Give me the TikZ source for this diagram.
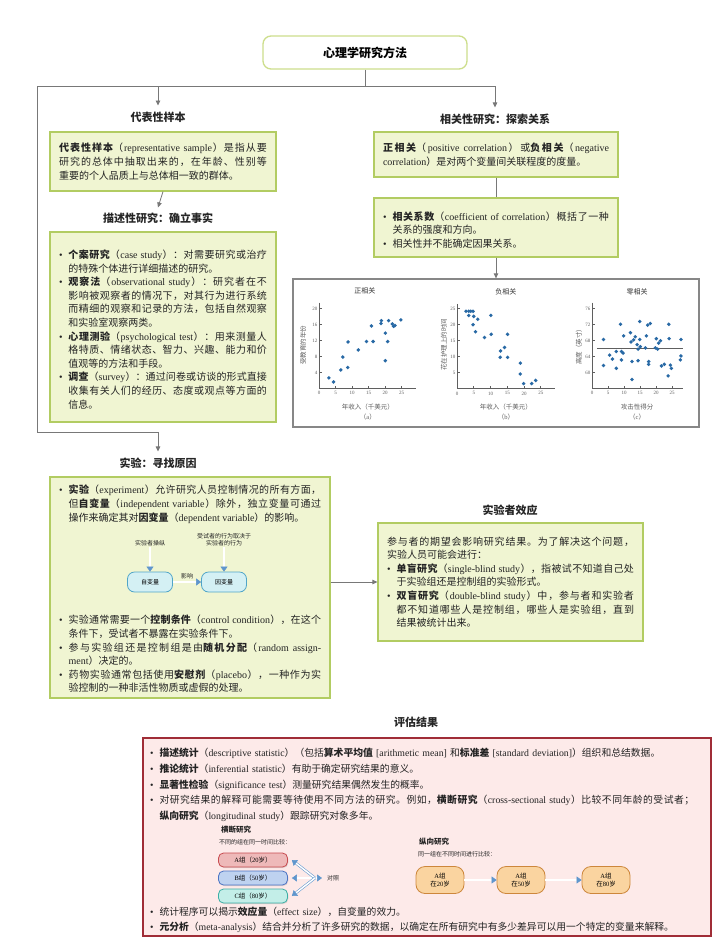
\documentclass[tikz,border=0pt]{standalone}
\usepackage{fontspec}
\setmainfont{Liberation Serif}
\newfontfamily\cjkfamily{Noto Sans CJK SC}
\usetikzlibrary{arrows.meta,shadows,positioning}

\makeatletter
\XeTeXinterchartokenstate=1
\newXeTeXintercharclass\cjkclass
\newcommand\setcharclass[3]{\count@=#1\relax
  \loop\XeTeXcharclass\count@=#3\relax
  \ifnum\count@<#2\advance\count@\@ne\repeat}
\makeatother
\setcharclass{"21}{"7E}{0}
\setcharclass{"2022}{"2022}{0}
\setcharclass{"3000}{"303F}{\cjkclass}
\setcharclass{"4E00}{"9FFF}{\cjkclass}
\setcharclass{"FF00}{"FFEF}{\cjkclass}
\newcommand\cjkglue{\nobreak\hskip0pt plus 1.2pt minus 0.3pt\relax}
\XeTeXinterchartoks 0 \cjkclass = {\cjkglue\cjkfamily}
\XeTeXinterchartoks 4095 \cjkclass = {\cjkfamily}
\XeTeXinterchartoks \cjkclass 0 = {\rmfamily\cjkglue}
\XeTeXinterchartoks 4095 0 = {\rmfamily}
\XeTeXinterchartoks \cjkclass \cjkclass = {\cjkglue}

\newcommand\itm{\par\noindent\hangindent=0.95em\hangafter=1\makebox[0.95em][l]{\textbullet}}

\definecolor{linegray}{RGB}{120,120,120}
\definecolor{boxedge}{RGB}{178,204,98}
\definecolor{boxfill}{RGB}{240,245,210}
\definecolor{titleedge}{RGB}{205,222,140}
\definecolor{evaledge}{RGB}{160,45,55}
\definecolor{evalfill}{RGB}{253,234,233}
\definecolor{inktext}{RGB}{35,35,35}
\definecolor{dotblue}{RGB}{40,105,165}
\definecolor{plotgray}{RGB}{95,95,95}
\definecolor{framegray}{RGB}{135,135,135}
\definecolor{arrowblue}{RGB}{95,150,205}
\definecolor{cyanfill}{RGB}{212,240,244}
\definecolor{cyanedge}{RGB}{80,165,200}
\definecolor{pinkfill}{RGB}{238,185,185}
\definecolor{pinkedge}{RGB}{200,75,80}
\definecolor{bluefill}{RGB}{190,210,240}
\definecolor{blueedge}{RGB}{75,115,195}
\definecolor{tealfill}{RGB}{195,238,232}
\definecolor{tealedge}{RGB}{60,175,165}
\definecolor{orangefill}{RGB}{250,212,160}
\definecolor{orangeedge}{RGB}{205,135,60}

\begin{document}
\begin{tikzpicture}[x=1pt,y=-1pt,
  conn/.style={draw=linegray,line width=0.8pt},
  arr/.style={conn,-{Triangle[length=5pt,width=4.5pt]}},
  head/.style={font=\fontsize{11}{13}\selectfont\bfseries,text=black!85,inner sep=2pt},
  titlebox/.style={draw=titleedge,fill=white,line width=1.3pt,rounded corners=8pt,
    minimum width=204pt,minimum height=33pt,font=\fontsize{12}{14}\selectfont\bfseries},
  greenbox/.style={draw=boxedge,fill=boxfill,line width=1.2pt,
    drop shadow={opacity=0.18,shadow xshift=1.2pt,shadow yshift=-1.2pt},
    inner xsep=9pt,inner ysep=4pt,align=justify,text=inktext,
    font=\fontsize{10}{13.6}\selectfont},
  parbox/.style={inner sep=0pt,align=justify,text=inktext,font=\fontsize{10}{13.6}\selectfont},
  evalbox/.style={draw=evaledge,fill=evalfill,line width=1.2pt,
    drop shadow={opacity=0.2,shadow xshift=1.2pt,shadow yshift=-1.2pt}},
  evaltext/.style={inner sep=0pt,align=left,text=inktext,font=\fontsize{9.8}{15.6}\selectfont},
  frame/.style={draw=framegray,fill=white,line width=1.3pt},
  axis/.style={draw=plotgray,line width=0.6pt},
  dot/.style={fill=dotblue},
  ticklab/.style={font=\fontsize{5}{6}\selectfont,text=plotgray,inner sep=1.5pt},
  plottitle/.style={font=\fontsize{7}{8}\selectfont,text=black!80},
  axlab/.style={font=\fontsize{6.5}{7.5}\selectfont,text=plotgray,inner sep=1pt},
  small/.style={font=\fontsize{6}{7}\selectfont,text=inktext,inner sep=1pt},
  smallbold/.style={font=\fontsize{7.5}{9}\selectfont\bfseries,text=inktext,inner sep=1pt},
  hollow/.style={draw=arrowblue,double=white,double distance=1.5pt,line width=0.55pt,
    -{Triangle[length=5pt,width=7pt]}},
  hollowboth/.style={hollow,{Triangle[length=5pt,width=7pt]}-{Triangle[length=5pt,width=7pt]}},
  varpill/.style={draw=cyanedge,fill=cyanfill,rounded corners=7pt,line width=0.8pt,
    minimum width=45pt,minimum height=20pt,font=\fontsize{6}{7}\selectfont},
  pill/.style={rounded corners=5pt,line width=0.8pt,minimum width=69pt,minimum height=14pt,
    inner sep=1pt,font=\fontsize{6.5}{7}\selectfont,
    drop shadow={opacity=0.25,shadow xshift=0.8pt,shadow yshift=-1pt}},
  agepill/.style={draw=orangeedge,fill=orangefill,rounded corners=9pt,line width=0.8pt,
    minimum width=48pt,minimum height=27pt,align=center,font=\fontsize{6.5}{8.5}\selectfont}]

\fill[white] (0,0) rectangle (728,951);
\useasboundingbox (0,0) rectangle (728,951);

% title and headings
\node[titlebox] (title) at (365,52.5) {心理学研究方法};
\node[head] (hrep) at (158,117) {代表性样本};
\node[head] (hdesc) at (158,218) {描述性研究：确立事实};
\node[head] (hcorr) at (495,119) {相关性研究：探索关系};
\node[head] (hexp) at (158,463) {实验：寻找原因};
\node[head] (heff) at (510,510) {实验者效应};
\node[head] (heval) at (416,722) {评估结果};

% left column
\node[greenbox,text width=208pt,minimum height=59pt] (brep) at (163,161.5)
  {\textbf{代表性样本}（representative sample）是指从要\linebreak 研究的总体中抽取出来的，在年龄、性别等\linebreak 重要的个人品质上与总体相一致的群体。};
\node[greenbox,text width=208pt,minimum height=190pt] (bdesc) at (163,327)
  {\itm\textbf{个案研究}（case study）：对需要研究或治疗\linebreak 的特殊个体进行详细描述的研究。
   \itm\textbf{观察法}（observational study）：研究者在不\linebreak 影响被观察者的情况下，对其行为进行系统\linebreak 而精细的观察和记录的方法，包括自然观察\linebreak 和实验室观察两类。
   \itm\textbf{心理测验}（psychological test）：用来测量人\linebreak 格特质、情绪状态、智力、兴趣、能力和价\linebreak 值观等的方法和手段。
   \itm\textbf{调查}（survey）：通过问卷或访谈的形式直接\linebreak 收集有关人们的经历、态度或观点等方面的\linebreak 信息。\par};

% right column
\node[greenbox,text width=226pt,minimum height=45pt] (bcorr) at (496,154.5)
  {\textbf{正相关}（positive correlation）或\textbf{负相关}（negative\linebreak correlation）是对两个变量间关联程度的度量。};
\node[greenbox,text width=226pt,minimum height=59pt] (bcoef) at (496,227.5)
  {\itm\textbf{相关系数}（coefficient of correlation）概括了一种\linebreak 关系的强度和方向。
   \itm 相关性并不能确定因果关系。\par};
\node[frame,minimum width=406pt,minimum height=148pt] (plots) at (496,353) {};

% connectors at the top
\coordinate (jl) at (37,86);
\coordinate (jr) at (495,86);
\coordinate (jm) at (158,86);
\coordinate (jb) at (37,432);
\draw[conn] (title.south) -- (title.south |- jl);
\draw[arr] (jl) -- (jr) -- ([yshift=4pt]hcorr.north);
\draw[arr] (jm) -- ([yshift=4pt]hrep.north);
\draw[arr] (brep.south) -- ([yshift=3pt]hdesc.north);
\draw[arr] (jl) -- (jb) -- (jb -| hexp) -- ([yshift=4pt]hexp.north);
\draw[conn] (bcorr.south) -- (bcoef.north);
\draw[arr] (bcoef.south) -- (plots.north);

% plot (a)
\begin{scope}[shift={(319,388.7)},x=3.3pt,y=4pt]
  \draw[axis] (0,21.5) -- (0,0) -- (29.5,0);
  \node[ticklab,below] (xa0) at (0,-0.3) {0};
  \foreach \t in {5,10,...,25}{
    \draw[axis] (\t,0) -- (\t,0.6);
    \node[ticklab,below] (xa\t) at (\t,-0.3) {\t};}
  \foreach \t in {4,8,...,20}{
    \draw[axis] (0,\t) -- (0.8,\t);
    \node[ticklab,left] (ya\t) at (0,\t) {\t};}
  \foreach \p in {(3,2.7),(4.4,1.7),(6.6,4.7),(7.2,7.9),(8.7,5.3),(8.8,11.7),(11.9,9.7),
    (14.4,11.8),(15.9,15.7),(16.4,11.8),(18.8,16.3),(18.9,17),(20.1,13.9),(20.1,7),
    (20.8,11.8),(21.1,17),(22.2,16.2),(22.6,15.6),(23,15.8),(24.8,17.2)}
    \fill[dot] \p circle (1.9pt);
  \node[plottitle] (pta) at (13.9,24.4) {正相关};
  \node[axlab] (pxa) at (14.8,-4.6) {年收入（千美元）};
  \node[axlab] (pca) at (14.8,-7.1) {（a）};
  \node[axlab,rotate=90] (pya) at (-4.8,10.9) {受教育的年份};
\end{scope}

% plot (b)
\begin{scope}[shift={(457,388.7)},x=3.35pt,y=3.2pt]
  \draw[axis] (0,26.5) -- (0,0) -- (29.3,0);
  \node[ticklab,below] (xb0) at (0,-0.4) {0};
  \foreach \t in {5,10,...,25}{
    \draw[axis] (\t,0) -- (\t,0.7);
    \node[ticklab,below] (xb\t) at (\t,-0.4) {\t};}
  \foreach \t in {5,10,...,25}{
    \draw[axis] (0,\t) -- (0.8,\t);
    \node[ticklab,left] (yb\t) at (0,\t) {\t};}
  \foreach \p in {(2.7,24.2),(3.5,24.2),(4.1,24.2),(4.8,24.2),(3.5,22.9),(5,22.6),
    (6.2,21.7),(4.8,20),(5.5,17.8),(10.1,22.9),(10.2,17),(8.2,16),(15.1,17),(13,11.8),
    (14.2,12.9),(12.9,9.8),(15.1,9.8),(18.9,8),(18.9,4.6),(19.9,1.6),(22.3,1.6),(23.5,2.6)}
    \fill[dot] \p circle (1.9pt);
  \node[plottitle] (ptb) at (14.6,30.2) {负相关};
  \node[axlab] (pxb) at (14.6,-5.7) {年收入（千美元）};
  \node[axlab] (pcb) at (14.6,-8.8) {（b）};
  \node[axlab,rotate=90] (pyb) at (-3.9,13.7) {花在护理上的时间};
\end{scope}

% plot (c)
\begin{scope}[shift={(592,612.7)},x=3.2pt,y=4pt]
  \draw[axis] (0,77.5) -- (0,56) -- (28.5,56);
  \node[ticklab,below] (xc0) at (0,55.7) {0};
  \foreach \t in {5,10,...,25}{
    \draw[axis] (\t,56) -- (\t,56.6);
    \node[ticklab,below] (xc\t) at (\t,55.7) {\t};}
  \foreach \t in {60,64,...,76}{
    \draw[axis] (0,\t) -- (0.8,\t);
    \node[ticklab,left] (yc\t) at (0,\t) {\t};}
  \draw[draw=plotgray,line width=1.3pt] (1.5,66) -- (28.5,66);
  \foreach \p in {(3.6,68.3),(3.6,61.8),(5.5,64.4),(6.4,63.4),(7.6,65.3),(7.6,61.1),
    (8.9,72.1),(9.2,65.3),(9.2,63.2),(9.7,64.9),(9.9,69.2),(12,70),(12.2,67.7),(12.5,62.8),
    (12.5,58.3),(13,68.2),(13.5,69),(14.1,67),(14.4,65.9),(14.4,63),(14.9,72.8),(14.9,68.3),
    (15.1,66.5),(16.7,66.2),(17,69.2),(17.4,71.9),(17.7,62.1),(17.7,62.8),(18.2,72.3),
    (19.8,66.2),(20.1,68.5),(20.5,65.9),(20.8,67.4),(21.4,68),(21.7,61.7),(22.6,62.1),
    (23.8,59.2),(24,72.1),(24.1,68.5),(24.5,61.9),(24.8,61.1),(27.8,64.2),(27.6,63.2),(27.8,68.3)}
    \fill[dot] \p circle (1.9pt);
  \node[plottitle] (ptc) at (14.1,80.2) {零相关};
  \node[axlab] (pxc) at (14.1,51.4) {攻击性得分};
  \node[axlab] (pcc) at (14.1,48.9) {（c）};
  \node[axlab,rotate=90] (pyc) at (-4.1,66.9) {高度（英寸）};
\end{scope}

% experiment
\node[greenbox,minimum width=280pt,minimum height=221pt] (bexp) at (190,587.5) {};
\node[parbox,text width=262pt,anchor=north west] (texp1) at (59,480)
  {\itm\textbf{实验}（experiment）允许研究人员控制情况的所有方面，\linebreak 但\textbf{自变量}（independent variable）除外，独立变量可通过\linebreak 操作来确定其对\textbf{因变量}（dependent variable）的影响。\par};
\node[small] (lman) at (150,543) {实验者操纵};
\node[small,align=center] (ldep) at (224,539.5) {受试者的行为取决于\\实验者的行为};
\node[varpill] (iv) at (150,582) {自变量};
\node[varpill] (dv) at (224,582) {因变量};
\draw[hollow] (lman.south) -- (iv.north);
\draw[hollow] (ldep.south) -- (dv.north);
\draw[hollow] (iv.east) -- (dv.west) node[small,midway,above=2pt] (leff) {影响};
\node[parbox,text width=262pt,anchor=north west] (texp2) at (59,610)
  {\itm 实验通常需要一个\textbf{控制条件}（control condition），在这个\linebreak 条件下，受试者不暴露在实验条件下。
   \itm 参与实验组还是控制组是由\textbf{随机分配}（random assign-\linebreak ment）决定的。
   \itm 药物实验通常包括使用\textbf{安慰剂}（placebo），一种作为实\linebreak 验控制的一种非活性物质或虚假的处理。\par};

% experimenter effect
\node[greenbox,text width=247pt,minimum height=118pt] (beff) at (510.5,582)
  {\noindent 参与者的期望会影响研究结果。为了解决这个问题，\linebreak 实验人员可能会进行：
   \itm\textbf{单盲研究}（single-blind study），指被试不知道自己处\linebreak 于实验组还是控制组的实验形式。
   \itm\textbf{双盲研究}（double-blind study）中，参与者和实验者\linebreak 都不知道哪些人是控制组，哪些人是实验组，直到\linebreak 结果被统计出来。\par};
\draw[arr] (bexp.east |- beff.west) -- (beff.west);

% evaluation
\node[evalbox,minimum width=568pt,minimum height=198pt] (beval) at (427,837) {};
\node[evaltext,text width=552pt,anchor=north west] (tev1) at (150,741)
  {\itm\textbf{描述统计}（descriptive statistic）（包括\textbf{算术平均值} [arithmetic mean] 和\textbf{标准差} [standard deviation]）组织和总结数据。
   \itm\textbf{推论统计}（inferential statistic）有助于确定研究结果的意义。
   \itm\textbf{显著性检验}（significance test）测量研究结果偶然发生的概率。
   \itm 对研究结果的解释可能需要等待使用不同方法的研究。例如，\textbf{横断研究}（cross-sectional study）比较不同年龄的受试者；\linebreak\textbf{纵向研究}（longitudinal study）跟踪研究对象多年。\par};

\node[smallbold,anchor=west] (hcross) at (220,830) {横断研究};
\node[small,anchor=west] (tcross) at (218,842) {不同的组在同一时间比较：};
\node[pill,draw=pinkedge,fill=pinkfill] (pa) at (253,860) {A组（20岁）};
\node[pill,draw=blueedge,fill=bluefill] (pb) at (253,878) {B组（50岁）};
\node[pill,draw=tealedge,fill=tealfill] (pc) at (253,896) {C组（80岁）};
\coordinate (cj) at (322,878);
\draw[hollowboth] ([xshift=4pt]pb.east) -- (cj);
\draw[hollow] ([xshift=-7pt]cj) -- ([xshift=4pt]pa.east);
\draw[hollow] ([xshift=-7pt]cj) -- ([xshift=4pt]pc.east);
\node[small,anchor=west] (lctrl) at (326,878) {对照};

\node[smallbold,anchor=west] (hlong) at (418,842) {纵向研究};
\node[small,anchor=west] (tlong) at (417,854) {同一组在不同时间进行比较：};
\node[agepill] (p20) at (440,880) {A组\\在20岁};
\node[agepill] (p50) at (521,880) {A组\\在50岁};
\node[agepill] (p80) at (606,880) {A组\\在80岁};
\draw[hollow] (p20) -- (p50);
\draw[hollow] (p50) -- (p80);

\node[evaltext,text width=552pt,anchor=north west,font=\fontsize{9.8}{15}\selectfont] (tev2) at (150,900)
  {\itm 统计程序可以揭示\textbf{效应量}（effect size），自变量的效力。
   \itm\textbf{元分析}（meta-analysis）结合并分析了许多研究的数据，以确定在所有研究中有多少差异可以用一个特定的变量来解释。\par};
\end{tikzpicture}
\end{document}
